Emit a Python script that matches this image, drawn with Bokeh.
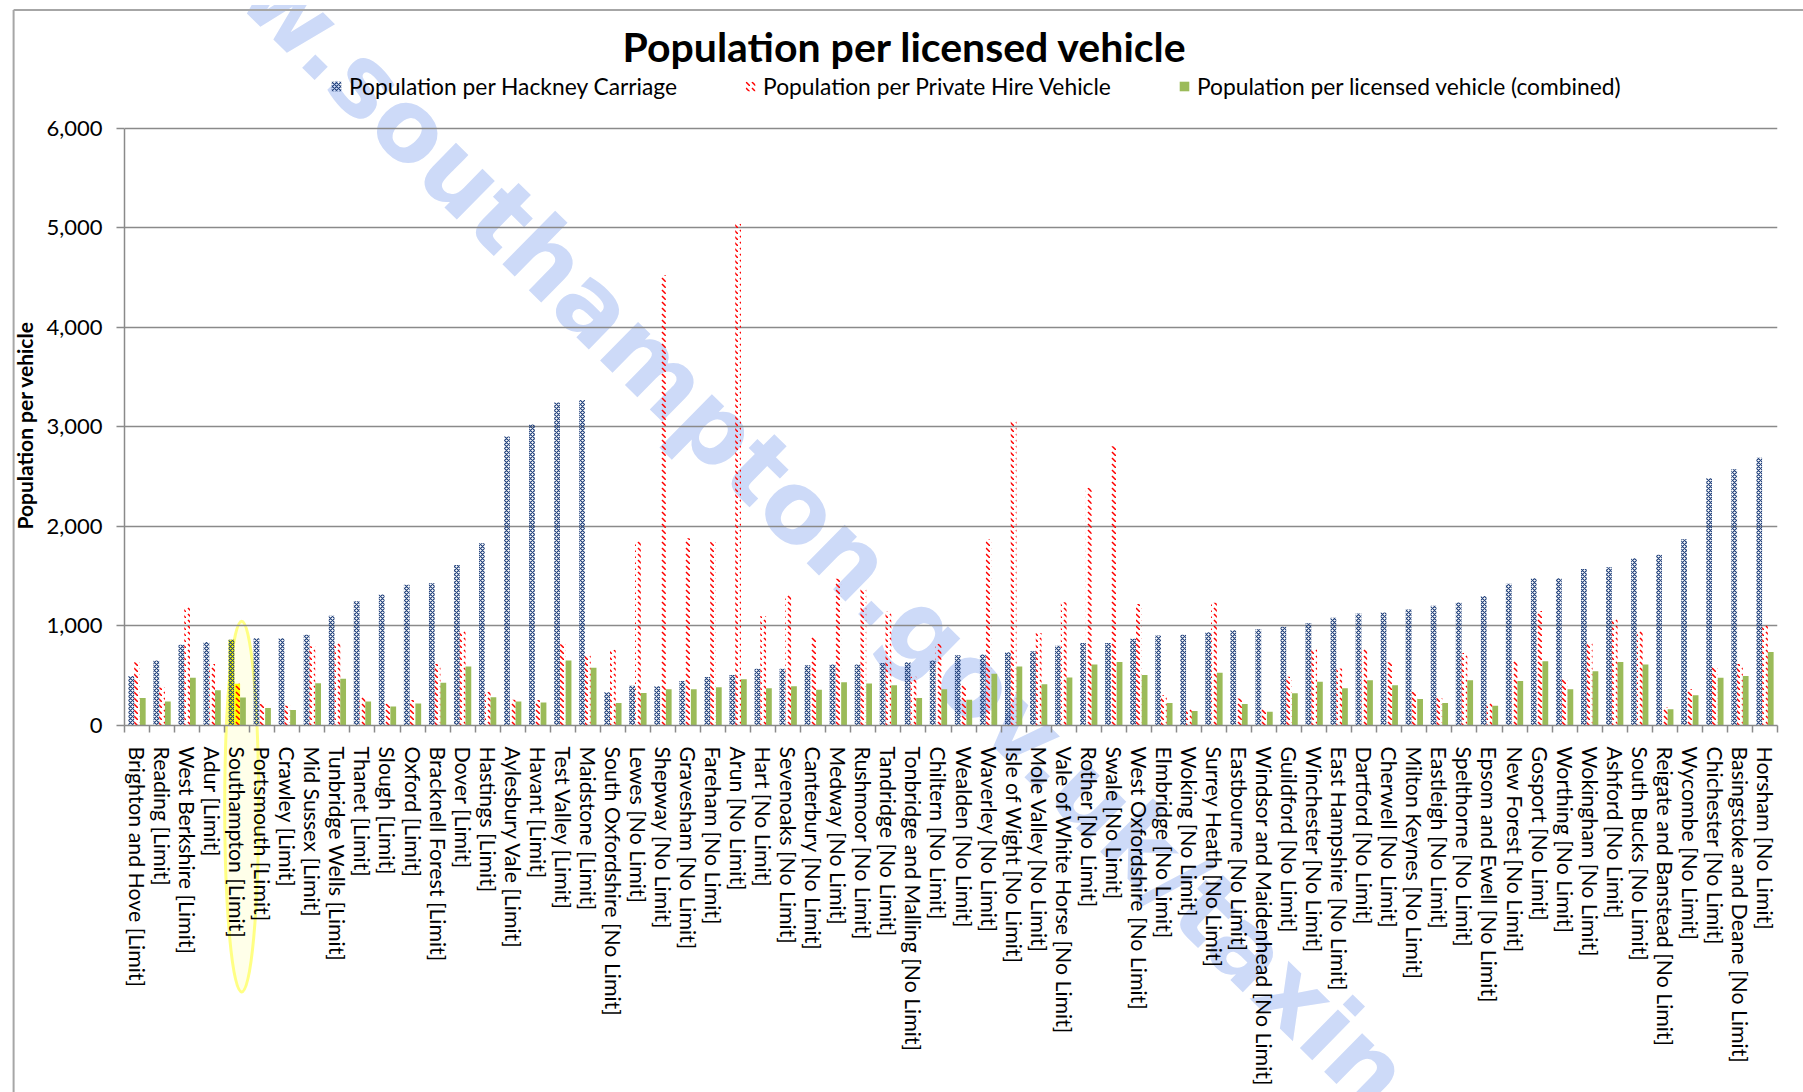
import numpy as np
from bokeh.plotting import figure
from bokeh.models import (Range1d, FixedTicker, NumeralTickFormatter, Legend, LegendItem,
                          ColumnDataSource, Div, GridBox, Title)
from bokeh.embed import file_html
from bokeh.resources import INLINE

# ---------------- data ----------------
categories = [
    "Brighton and Hove [Limit]", "Reading [Limit]", "West Berkshire [Limit]", "Adur [Limit]",
    "Southampton [Limit]", "Portsmouth [Limit]", "Crawley [Limit]", "Mid Sussex [Limit]",
    "Tunbridge Wells [Limit]", "Thanet [Limit]", "Slough [Limit]", "Oxford [Limit]",
    "Bracknell Forest [Limit]", "Dover [Limit]", "Hastings [Limit]", "Aylesbury Vale [Limit]",
    "Havant [Limit]", "Test Valley [Limit]", "Maidstone [Limit]",
    "South Oxfordshire [No Limit]", "Lewes [No Limit]", "Shepway [No Limit]",
    "Gravesham [No Limit]", "Fareham [No Limit]", "Arun [No Limit]", "Hart [No Limit]",
    "Sevenoaks [No Limit]", "Canterbury [No Limit]", "Medway [No Limit]",
    "Rushmoor [No Limit]", "Tandridge [No Limit]", "Tonbridge and Malling [No Limit]",
    "Chiltern [No Limit]", "Wealden [No Limit]", "Waverley [No Limit]",
    "Isle of Wight [No Limit]", "Mole Valley [No Limit]", "Vale of White Horse [No Limit]",
    "Rother [No Limit]", "Swale [No Limit]", "West Oxfordshire [No Limit]",
    "Elmbridge [No Limit]", "Woking [No Limit]", "Surrey Heath [No Limit]",
    "Eastbourne [No Limit]", "Windsor and Maidenhead [No Limit]", "Guildford [No Limit]",
    "Winchester [No Limit]", "East Hampshire [No Limit]", "Dartford [No Limit]",
    "Cherwell [No Limit]", "Milton Keynes [No Limit]", "Eastleigh [No Limit]",
    "Spelthorne [No Limit]", "Epsom and Ewell [No Limit]", "New Forest [No Limit]",
    "Gosport [No Limit]", "Worthing [No Limit]", "Wokingham [No Limit]",
    "Ashford [No Limit]", "South Bucks [No Limit]", "Reigate and Banstead [No Limit]",
    "Wycombe [No Limit]", "Chichester [No Limit]", "Basingstoke and Deane [No Limit]",
    "Horsham [No Limit]",
]

hackney = [497, 652, 811, 838, 861, 877, 877, 911, 1103, 1248, 1315, 1414, 1430, 1613,
           1831, 2904, 3023, 3245, 3270,
           333, 400, 394, 447, 487, 507, 570, 570, 606, 613, 613, 629, 636, 652, 705, 712,
           735, 745, 801, 828, 828, 871, 904, 911, 937, 957, 967, 993, 1026, 1083, 1126,
           1136, 1166, 1202, 1235, 1301, 1424, 1480, 1480, 1573, 1589, 1679, 1715, 1871,
           2483, 2573, 2689]

private_hire = [636, 381, 1199, 619, 420, 215, 199, 795, 828, 288, 222, 255, 619, 950,
                338, 258, 255, 815, 703,
                762, 1850, 4523, 1880, 1845, 5040, 1100, 1315, 900, 1475, 1372, 1142, 490,
                822, 405, 1869, 3070, 930, 1238, 2388, 2805, 1221, 305, 172, 1232, 272,
                166, 490, 778, 573, 772, 636, 338, 275, 728, 232, 656, 1149, 474, 828, 1076,
                960, 182, 364, 596, 619, 1010]

combined = [275, 242, 480, 354, 281, 175, 156, 424, 470, 242, 192, 222, 430, 593, 285,
            242, 232, 653, 580,
            227, 326, 364, 364, 384, 464, 374, 394, 358, 434, 421, 404, 275, 364, 258,
            520, 593, 414, 483, 613, 639, 507, 225, 146, 530, 215, 139, 325, 440, 374,
            454, 404, 265, 225, 454, 199, 447, 646, 364, 546, 639, 613, 162, 305, 480,
            497, 738]

series_names = ["Population per Hackney Carriage",
                "Population per Private Hire Vehicle",
                "Population per licensed vehicle (combined)"]
y_ticks = [0, 1000, 2000, 3000, 4000, 5000, 6000]
y_title = "Population per vehicle"
chart_title = "Population per licensed vehicle"
highlighted = "Southampton [Limit]"
watermark_head, watermark_tail = "www.southampton", ".gov.uk/taxin"

# ---------------- layout constants (pixels) ----------------
WIDTH, HEIGHT = 1800, 1088
FRAME_L, FRAME_R, FRAME_B = 124, 1777, 732     # plot area
GRID_TOP = 128.3                                  # pixel row of the top gridline
FRAME_T = 72                                      # frame reaches up to hold the legend
FONT = "Lato"
GRID = "#8a8a8a"

n = len(categories)
idx = np.arange(n)
W = 0.23
hl = categories.index(highlighted)
y_max = y_ticks[-1]
px_per_unit = (FRAME_B - GRID_TOP) / y_max
y_end = (FRAME_B - FRAME_T) / px_per_unit

# ---------------- background layer (watermark, highlight, chart border) ----------------
cat_w = (FRAME_R - FRAME_L) / n
cx = FRAME_L + (hl + 0.5) * cat_w
cy = FRAME_B + 692 * px_per_unit
rx = 0.68 * cat_w
ry = 1842 * px_per_unit
jx, jy, ang = 846, 602, 44.5
wm_style = ("font-family:'DejaVu Sans';font-weight:700;font-size:99px;"
            "fill:#cddaf8")
bg_svg = (
    f'<svg xmlns="http://www.w3.org/2000/svg" width="{WIDTH}" height="{HEIGHT}" '
    f'style="display:block">'
    f'<g transform="rotate({ang} {jx} {jy})">'
    f'<text x="{jx}" y="{jy}" text-anchor="end" style="{wm_style}">{watermark_head}</text>'
    f'<text x="{jx}" y="{jy}" text-anchor="start" style="{wm_style}">{watermark_tail}</text>'
    f'</g>'
    f'<ellipse cx="{cx:.1f}" cy="{cy:.1f}" rx="{rx:.1f}" ry="{ry:.1f}" fill="#FFFF99" '
    f'fill-opacity="0.22" stroke="#FFFF66" stroke-opacity="0.8" stroke-width="3"/>'
    f'<line x1="8.6" y1="5" x2="8.6" y2="{HEIGHT}" stroke="#a6a6a6" stroke-width="2"/>'
    f'<line x1="8.6" y1="5" x2="{WIDTH}" y2="5" stroke="#a6a6a6" stroke-width="2"/>'
    f'</svg>'
)
bg = Div(text=bg_svg, width=WIDTH, height=HEIGHT)

# ---------------- chart layer ----------------
src = ColumnDataSource(dict(
    xh=idx - W, xp=idx, xc=idx + W,
    hackney=hackney, private=private_hire, combined=combined,
    hl_alpha=[1.0 if i == hl else 0.0 for i in idx],
))

p = figure(width=WIDTH, height=HEIGHT,
           x_range=Range1d(-0.5, n - 0.5), y_range=Range1d(0, y_end),
           output_backend="svg", toolbar_location=None,
           min_border_left=FRAME_L, min_border_right=WIDTH - FRAME_R,
           min_border_top=FRAME_T, min_border_bottom=HEIGHT - FRAME_B,
           title=chart_title)
p.border_fill_color = None
p.background_fill_color = None
p.outline_line_color = None

p.title.text_font = FONT
p.title.text_font_style = "bold"
p.title.text_font_size = "41px"
p.title.text_color = "black"
p.title.align = "left"
p.title.offset = 498
p.title.standoff = 3

yt = FixedTicker(ticks=y_ticks)
p.yaxis.ticker = yt
p.ygrid.ticker = yt
p.yaxis.bounds = (0, y_max)
p.xgrid.visible = False
p.ygrid.grid_line_color = GRID
p.ygrid.grid_line_width = 1.5

p.yaxis.formatter = NumeralTickFormatter(format="0,0")
p.yaxis.axis_line_color = GRID
p.yaxis.axis_line_width = 1.5
p.yaxis.major_tick_line_color = GRID
p.yaxis.major_tick_line_width = 1.5
p.yaxis.major_tick_out = 8
p.yaxis.major_tick_in = 0
p.yaxis.minor_tick_line_color = None
p.yaxis.major_label_text_font = FONT
p.yaxis.major_label_text_font_size = "22px"
p.yaxis.major_label_text_color = "black"
p.yaxis.major_label_standoff = 14

# y-axis title, centred on the 0..6,000 span (the frame itself reaches higher)
p.add_layout(Title(text=y_title, align="left", offset=196, vertical_align="bottom",
                   standoff=13, text_font=FONT, text_font_style="bold",
                   text_font_size="21px", text_color="black"), "left")

p.xaxis.ticker = FixedTicker(ticks=[int(i) for i in idx],
                             minor_ticks=[float(i) - 0.5 for i in range(n + 1)])
p.xaxis.major_label_overrides = {int(i): c for i, c in zip(idx, categories)}
p.xaxis.major_label_orientation = "vertical"
p.xaxis.axis_line_color = GRID
p.xaxis.axis_line_width = 1.5
p.xaxis.major_tick_line_color = None
p.xaxis.major_tick_out = 0
p.xaxis.major_tick_in = 0
p.xaxis.minor_tick_line_color = GRID
p.xaxis.minor_tick_line_width = 1.5
p.xaxis.minor_tick_out = 7
p.xaxis.minor_tick_in = 0
p.xaxis.major_label_text_font = FONT
p.xaxis.major_label_text_font_size = "21.3px"
p.xaxis.major_label_text_color = "black"
p.xaxis.major_label_standoff = 14

rh = p.vbar(x="xh", top="hackney", width=W, source=src,
            fill_color="#FFFF00", fill_alpha="hl_alpha", line_color=None,
            hatch_pattern="diagonal_cross", hatch_color="#1F3F7A",
            hatch_scale=4, hatch_weight=1.2)
rp = p.vbar(x="xp", top="private", width=W, source=src,
            fill_color="#FFFF00", fill_alpha="hl_alpha", line_color=None,
            hatch_pattern="left_diagonal_dash", hatch_color="#FF0000",
            hatch_scale=6, hatch_weight=1.5)
rc = p.vbar(x="xc", top="combined", width=W, source=src,
            fill_color="#9BBB59", line_color=None)

# legend sits inside the (extended) frame, above the 6,000 gridline
LEG_X, LEG_CENTER_Y, LEG_H = 330, 93, 34
legend = Legend(items=[LegendItem(label=series_names[0], renderers=[rh]),
                       LegendItem(label=series_names[1], renderers=[rp]),
                       LegendItem(label=series_names[2], renderers=[rc])],
                orientation="horizontal",
                location=(LEG_X - FRAME_L, FRAME_B - (LEG_CENTER_Y + LEG_H / 2)),
                label_text_font=FONT, label_text_font_size="22.8px",
                label_text_color="black", label_height=LEG_H,
                glyph_width=12, glyph_height=12, label_standoff=7, spacing=67,
                padding=0, margin=0, border_line_alpha=0, background_fill_alpha=0)
p.add_layout(legend)

layout = GridBox(children=[(bg, 0, 0), (p, 0, 0)])

open("out.html", "w").write(file_html(layout, INLINE))
